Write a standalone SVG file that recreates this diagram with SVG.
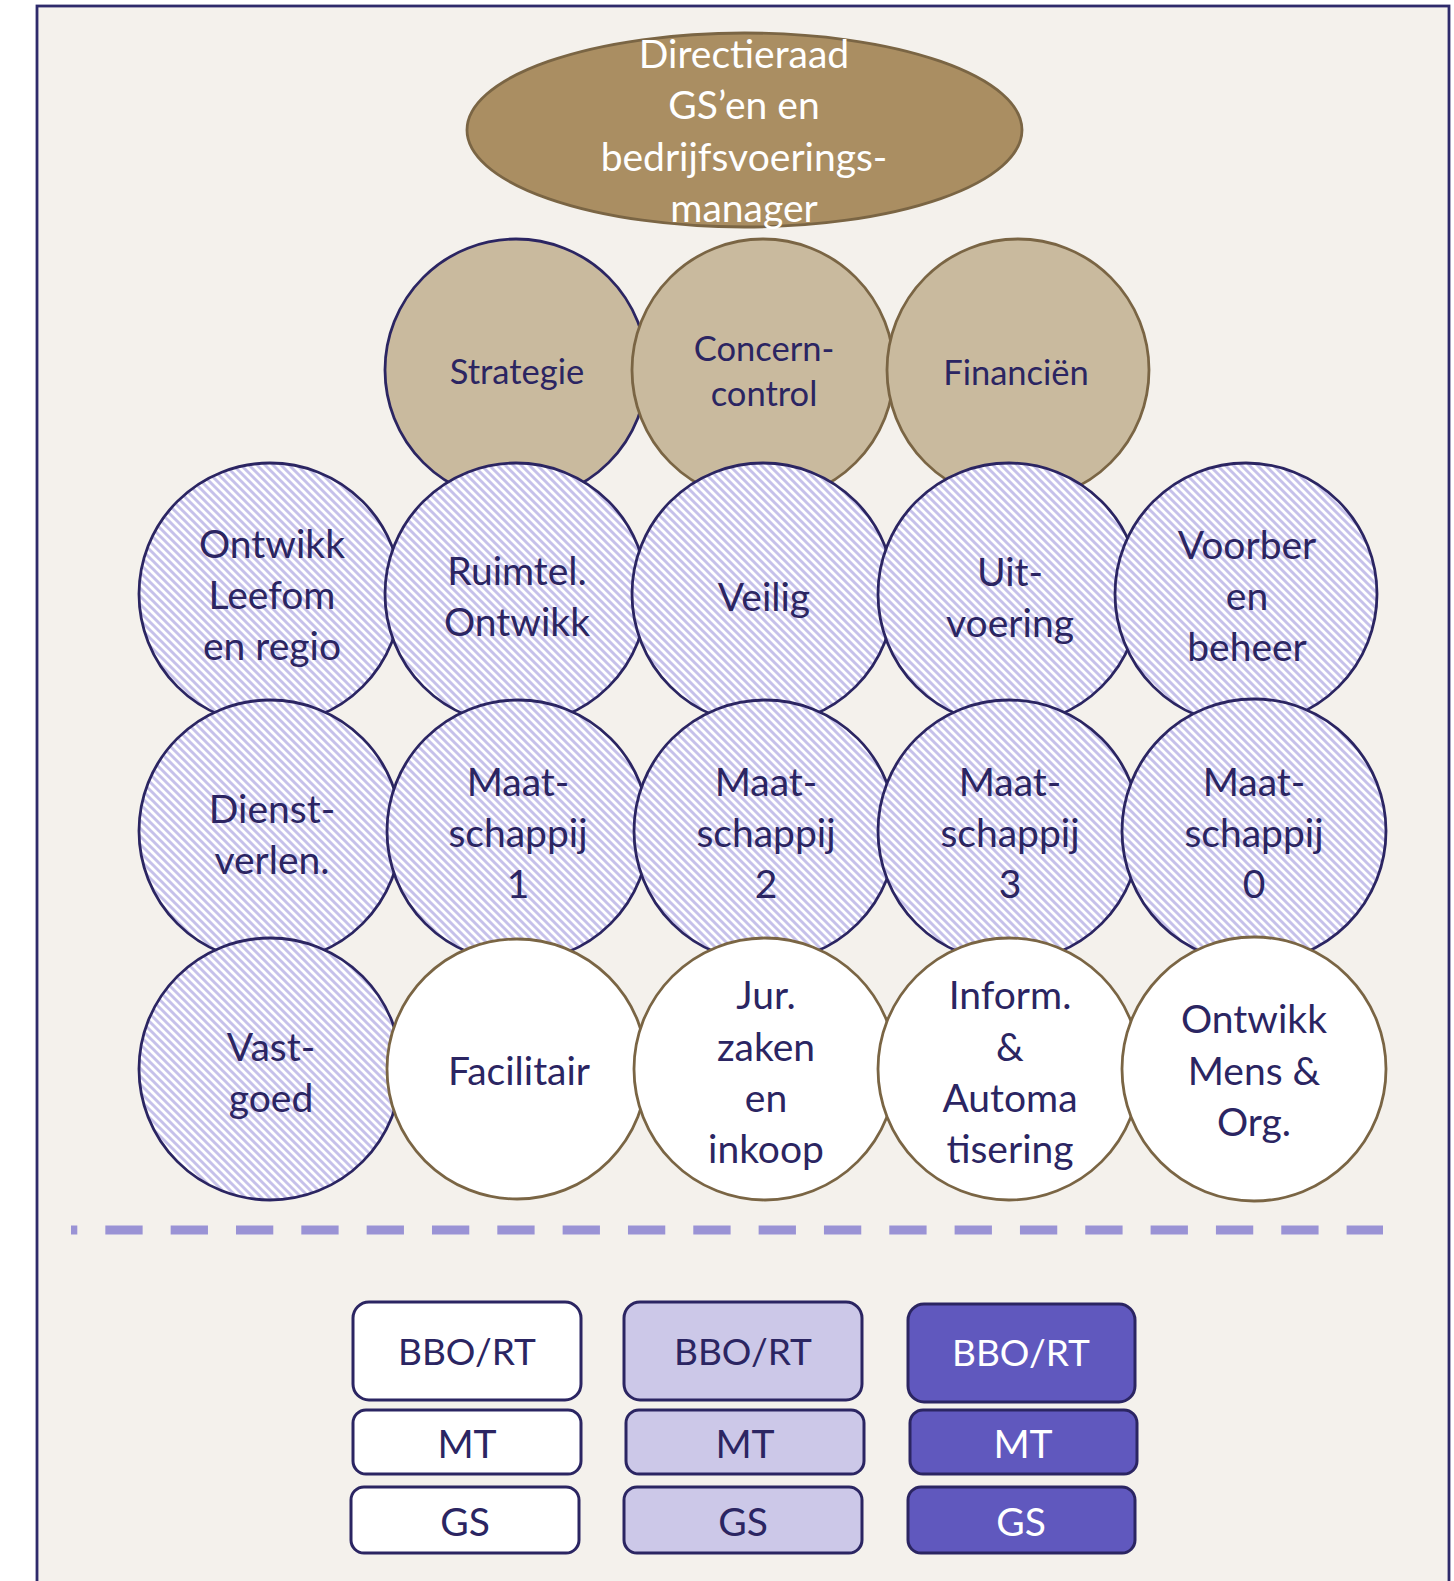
<svg xmlns="http://www.w3.org/2000/svg" width="1454" height="1581" viewBox="0 0 1454 1581">
  <defs>
    <!-- downward diagonal hatch used for the hatched departments -->
    <pattern id="hatch" patternUnits="userSpaceOnUse" width="8" height="8">
      <rect width="8" height="8" fill="#ffffff"/>
      <path d="M-2,-2 L10,10 M-2,6 L2,10 M6,-2 L10,2" stroke="#C6C1EA" stroke-width="2.9"/>
    </pattern>
    <style>
      text { font-family: Lato, "Open Sans", "Liberation Sans", sans-serif; text-anchor: middle; fill: #2B2562; }
      .t42 { font-size: 39px; }
      .t37 { font-size: 34.5px; }
      .tl { font-size: 37px; }
      .white { fill: #ffffff; }
      .c-tan-navy { fill: #C9BA9E; stroke: #2B2562; stroke-width: 2.8; }
      .c-tan { fill: #C9BA9E; stroke: #7A6544; stroke-width: 2.8; }
      .c-hatch { fill: url(#hatch); stroke: #2B2562; stroke-width: 2.8; }
      .c-white { fill: #ffffff; stroke: #7A6544; stroke-width: 2.8; }
      .box { stroke: #2B2562; stroke-width: 3; }
      .b1 { fill: #ffffff; }
      .b2 { fill: #CCC8E8; }
      .b3 { fill: #6058BE; }
    </style>
  </defs>

  <!-- page and frame -->
  <rect x="0" y="0" width="1454" height="1581" fill="#ffffff"/>
  <rect x="37" y="6" width="1412" height="1600" fill="#F4F1EC" stroke="#2E2A6B" stroke-width="2.8"/>

  <!-- board -->
  <g id="directieraad">
    <ellipse cx="744.5" cy="130" rx="277.5" ry="97" fill="#AA8E62" stroke="#7A6544" stroke-width="2.8"/>
    <text class="t42 white" x="744" y="68">Directieraad</text>
    <text class="t42 white" x="744" y="119">GS’en en</text>
    <text class="t42 white" x="744" y="171">bedrijfsvoerings-</text>
    <text class="t42 white" x="744" y="222">manager</text>
  </g>

  <!-- row 1: staff -->
  <g id="strategie">
    <circle class="c-tan-navy" cx="516" cy="370" r="131"/>
    <text class="t37" x="517" y="384">Strategie</text>
  </g>
  <g id="concern-control">
    <circle class="c-tan" cx="763" cy="370" r="131"/>
    <text class="t37" x="764" y="361">Concern-</text>
    <text class="t37" x="764" y="406">control</text>
  </g>
  <g id="financien">
    <circle class="c-tan" cx="1018" cy="370" r="131"/>
    <text class="t37" x="1016" y="385">Financiën</text>
  </g>

  <!-- row 2 -->
  <g id="ontwikk-leefom">
    <circle class="c-hatch" cx="270" cy="594" r="131"/>
    <text class="t42" x="272" y="558">Ontwikk</text>
    <text class="t42" x="272" y="609">Leefom</text>
    <text class="t42" x="272" y="660">en regio</text>
  </g>
  <g id="ruimtel-ontwikk">
    <circle class="c-hatch" cx="516" cy="594" r="131"/>
    <text class="t42" x="517" y="585">Ruimtel.</text>
    <text class="t42" x="517" y="636">Ontwikk</text>
  </g>
  <g id="veilig">
    <circle class="c-hatch" cx="763" cy="594" r="131"/>
    <text class="t42" x="764" y="611">Veilig</text>
  </g>
  <g id="uitvoering">
    <circle class="c-hatch" cx="1009" cy="594" r="131"/>
    <text class="t42" x="1010" y="586">Uit-</text>
    <text class="t42" x="1010" y="637">voering</text>
  </g>
  <g id="voorber-beheer">
    <circle class="c-hatch" cx="1246" cy="594" r="131"/>
    <text class="t42" x="1247" y="559">Voorber</text>
    <text class="t42" x="1247" y="610">en</text>
    <text class="t42" x="1247" y="661">beheer</text>
  </g>

  <!-- row 3 -->
  <g id="dienstverlen">
    <circle class="c-hatch" cx="270" cy="831" r="131"/>
    <text class="t42" x="272" y="823">Dienst-</text>
    <text class="t42" x="272" y="874">verlen.</text>
  </g>
  <g id="maatschappij-1">
    <circle class="c-hatch" cx="518" cy="831" r="131"/>
    <text class="t42" x="518" y="796">Maat-</text>
    <text class="t42" x="518" y="847">schappij</text>
    <text class="t42" x="518" y="898">1</text>
  </g>
  <g id="maatschappij-2">
    <circle class="c-hatch" cx="765" cy="831" r="131"/>
    <text class="t42" x="766" y="796">Maat-</text>
    <text class="t42" x="766" y="847">schappij</text>
    <text class="t42" x="766" y="898">2</text>
  </g>
  <g id="maatschappij-3">
    <circle class="c-hatch" cx="1009" cy="831" r="131"/>
    <text class="t42" x="1010" y="796">Maat-</text>
    <text class="t42" x="1010" y="847">schappij</text>
    <text class="t42" x="1010" y="898">3</text>
  </g>
  <g id="maatschappij-0">
    <circle class="c-hatch" cx="1254" cy="831" r="132"/>
    <text class="t42" x="1254" y="796">Maat-</text>
    <text class="t42" x="1254" y="847">schappij</text>
    <text class="t42" x="1254" y="898">0</text>
  </g>

  <!-- row 4 -->
  <g id="vastgoed">
    <circle class="c-hatch" cx="270" cy="1069" r="131"/>
    <text class="t42" x="271" y="1061">Vast-</text>
    <text class="t42" x="271" y="1112">goed</text>
  </g>
  <g id="facilitair">
    <circle class="c-white" cx="517" cy="1069" r="130"/>
    <text class="t42" x="519" y="1085">Facilitair</text>
  </g>
  <g id="jur-zaken-inkoop">
    <circle class="c-white" cx="765" cy="1069" r="131"/>
    <text class="t42" x="766" y="1009">Jur.</text>
    <text class="t42" x="766" y="1061">zaken</text>
    <text class="t42" x="766" y="1112">en</text>
    <text class="t42" x="766" y="1163">inkoop</text>
  </g>
  <g id="inform-automatisering">
    <circle class="c-white" cx="1009" cy="1069" r="131"/>
    <text class="t42" x="1010" y="1009">Inform.</text>
    <text class="t42" x="1010" y="1061">&amp;</text>
    <text class="t42" x="1010" y="1112">Automa</text>
    <text class="t42" x="1010" y="1163">tisering</text>
  </g>
  <g id="ontwikk-mens-org">
    <circle class="c-white" cx="1254" cy="1069" r="132"/>
    <text class="t42" x="1254" y="1033">Ontwikk</text>
    <text class="t42" x="1254" y="1085">Mens &amp;</text>
    <text class="t42" x="1254" y="1136">Org.</text>
  </g>

  <!-- separator between the organisation and the legend -->
  <g id="connectors">
    <line x1="71" y1="1230" x2="1383" y2="1230" stroke="#9A93D5" stroke-width="9" stroke-dasharray="37.3 28.03" stroke-dashoffset="31"/>
  </g>

  <!-- legend: three columns of consultation levels -->
  <g id="legend-1">
    <rect class="box b1" x="353" y="1302" width="228" height="98" rx="16"/>
    <text class="tl" x="467" y="1365">BBO/RT</text>
    <rect class="box b1" x="353" y="1410" width="228" height="64" rx="13"/>
    <text class="t42" x="467" y="1458">MT</text>
    <rect class="box b1" x="351" y="1487" width="228" height="66" rx="13"/>
    <text class="t42" x="465" y="1536">GS</text>
  </g>
  <g id="legend-2">
    <rect class="box b2" x="624" y="1302" width="238" height="98" rx="16"/>
    <text class="tl" x="743" y="1365">BBO/RT</text>
    <rect class="box b2" x="626" y="1410" width="238" height="64" rx="13"/>
    <text class="t42" x="745" y="1458">MT</text>
    <rect class="box b2" x="624" y="1487" width="238" height="66" rx="13"/>
    <text class="t42" x="743" y="1536">GS</text>
  </g>
  <g id="legend-3">
    <rect class="box b3" x="908" y="1304" width="227" height="98" rx="16"/>
    <text class="tl white" x="1021" y="1366">BBO/RT</text>
    <rect class="box b3" x="910" y="1410" width="227" height="64" rx="13"/>
    <text class="t42 white" x="1023" y="1458">MT</text>
    <rect class="box b3" x="908" y="1487" width="227" height="66" rx="13"/>
    <text class="t42 white" x="1021" y="1536">GS</text>
  </g>
</svg>
